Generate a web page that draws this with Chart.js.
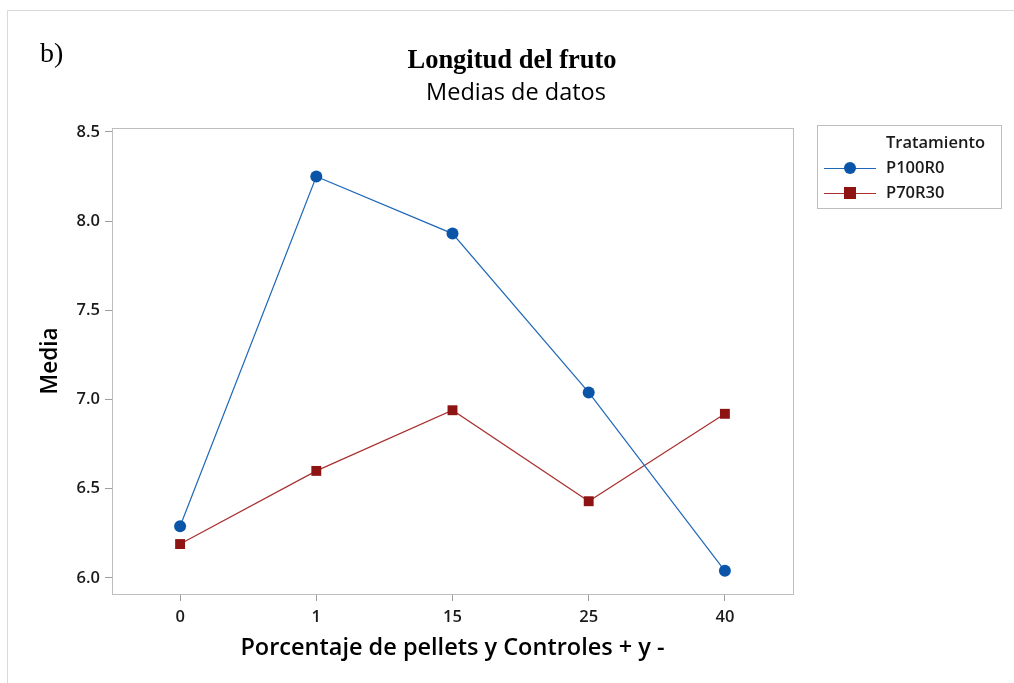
<!DOCTYPE html>
<html><head><meta charset="utf-8">
<script src="https://cdn.jsdelivr.net/npm/chart.js@4"></script>
<style>html,body{margin:0;padding:0;background:#fff}</style>
</head><body>
<canvas id="c" width="1014" height="683"></canvas>
<script>
const categories = ['0', '1', '15', '25', '40'];
const seriesNames = ['P100R0', 'P70R30'];
const p100r0 = [6.29, 8.25, 7.93, 7.04, 6.04];
const p70r30 = [6.19, 6.60, 6.94, 6.43, 6.92];
const yTickValues = [6.0, 6.5, 7.0, 7.5, 8.0, 8.5];
const panelLabel = 'b)';
const titleText = 'Longitud del fruto';
const subtitleText = 'Medias de datos';
const legendTitle = 'Tratamiento';
const xTitle = 'Porcentaje de pellets y Controles + y -';
const yTitle = 'Media';

const SANS = '"Open Sans", "Noto Sans", sans-serif';
const SERIF = '"Liberation Serif", "DejaVu Serif", serif';

const decorPlugin = {
  id: 'decor',
  beforeDraw(chart) {
    const ctx = chart.ctx;
    ctx.save();
    ctx.fillStyle = '#fff';
    ctx.fillRect(0, 0, chart.width, chart.height);
    ctx.strokeStyle = '#d9d9d9';
    ctx.lineWidth = 1;
    ctx.beginPath();
    ctx.moveTo(7.5, chart.height);
    ctx.lineTo(7.5, 10.5);
    ctx.lineTo(chart.width, 10.5);
    ctx.stroke();
    ctx.restore();
  },
  afterDraw(chart) {
    const ctx = chart.ctx;
    const a = chart.chartArea;
    ctx.save();
    ctx.strokeStyle = '#bdbdbd';
    ctx.lineWidth = 1;
    ctx.strokeRect(Math.round(a.left) + 0.5, Math.round(a.top) + 0.5, Math.round(a.right - a.left), Math.round(a.bottom - a.top));
    ctx.fillStyle = '#000';
    ctx.textBaseline = 'middle';
    ctx.textAlign = 'left';
    ctx.font = '28px ' + SERIF;
    ctx.fillText(panelLabel, 40, 55);
    ctx.textAlign = 'center';
    ctx.font = 'bold 26.5px ' + SERIF;
    ctx.fillText(titleText, 512, 61);
    ctx.font = '23.5px ' + SANS;
    ctx.fillText(subtitleText, 516, 93);
    const lx = 817, ly = 125, lw = 184, lh = 83;
    ctx.strokeStyle = '#bdbdbd';
    ctx.strokeRect(lx + 0.5, ly + 0.5, lw, lh);
    ctx.fillStyle = '#1a1a1a';
    ctx.font = '600 16.5px ' + SANS;
    ctx.textAlign = 'left';
    ctx.fillText(legendTitle, 886, 143);
    chart.data.datasets.forEach((ds, i) => {
      const y = 168 + i * 25;
      ctx.strokeStyle = ds.borderColor;
      ctx.lineWidth = 1.2;
      ctx.beginPath();
      ctx.moveTo(824, y + 0.5);
      ctx.lineTo(876, y + 0.5);
      ctx.stroke();
      ctx.fillStyle = ds.pointBackgroundColor;
      if (ds.pointStyle === 'rect') {
        ctx.fillRect(850 - 6, y - 6, 12, 12);
      } else {
        ctx.beginPath();
        ctx.arc(850, y, 6, 0, Math.PI * 2);
        ctx.fill();
      }
      ctx.fillStyle = '#1a1a1a';
      ctx.font = '600 16.5px ' + SANS;
      ctx.fillText(ds.label, 886, y);
    });
    ctx.restore();
  }
};

new Chart(document.getElementById('c'), {
  type: 'line',
  data: {
    labels: categories,
    datasets: [
      {
        label: seriesNames[0], data: p100r0,
        borderColor: '#1f68b8', borderWidth: 1.2,
        pointStyle: 'circle', pointRadius: 6, pointHoverRadius: 6,
        pointBackgroundColor: '#0a55a8', pointBorderColor: '#0a55a8', pointBorderWidth: 0,
        tension: 0, fill: false
      },
      {
        label: seriesNames[1], data: p70r30,
        borderColor: '#a8302f', borderWidth: 1.2,
        pointStyle: 'rect', pointRadius: 7, pointHoverRadius: 7,
        pointBackgroundColor: '#8e1414', pointBorderColor: '#8e1414', pointBorderWidth: 0,
        tension: 0, fill: false
      }
    ]
  },
  options: {
    responsive: false,
    devicePixelRatio: 1,
    animation: false,
    events: [],
    layout: { padding: { top: 128, right: 221, left: 0, bottom: 0 } },
    plugins: { legend: { display: false }, tooltip: { enabled: false }, title: { display: false } },
    scales: {
      x: {
        type: 'category',
        offset: true,
        grid: { display: true, drawOnChartArea: false, drawTicks: true, tickLength: 7, color: '#9e9e9e', offset: false },
        border: { display: false },
        ticks: { color: '#1a1a1a', font: { family: SANS, size: 16.5, weight: '600' }, padding: 6, maxRotation: 0 },
        title: { display: true, text: xTitle, color: '#000', font: { family: SANS, size: 23.5, weight: '600' }, padding: { top: 4, bottom: 21 } },
        afterFit(s) { s.height = 89; }
      },
      y: {
        min: 5.91, max: 8.522,
        grid: { display: true, drawOnChartArea: false, drawTicks: true, tickLength: 7, color: '#9e9e9e' },
        border: { display: false },
        afterBuildTicks(s) { s.ticks = yTickValues.map(v => ({ value: v })); },
        ticks: { color: '#1a1a1a', font: { family: SANS, size: 16.5, weight: '600' }, padding: 5, callback: v => Number(v).toFixed(1) },
        title: { display: true, text: yTitle, color: '#000', font: { family: SANS, size: 22.5, weight: '600' }, padding: { top: 37, bottom: 0 } },
        afterFit(s) { s.width = 112; }
      }
    }
  },
  plugins: [decorPlugin]
});
</script>
</body></html>
